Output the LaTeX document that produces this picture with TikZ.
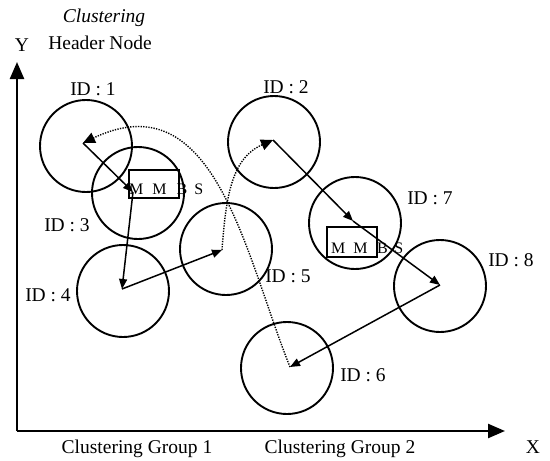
\documentclass[tikz,border=0pt]{standalone}
\usepackage{fontspec}
\setmainfont{Liberation Serif}
\usetikzlibrary{arrows.meta}
\begin{document}
\begin{tikzpicture}[x=1pt,y=-1pt,
  cell/.style={draw,circle,line width=1.9pt,minimum size=92pt,inner sep=0pt},
  lbl/.style={font=\fontsize{19.5}{21}\selectfont,inner sep=0pt},
  link/.style={line width=1.5pt,-{Triangle[length=10pt,width=8pt]}},
  dlink/.style={line width=1.4pt,dash pattern=on 1.3pt off 1.3pt,-{Triangle[length=12pt,width=11pt]}},
  axis/.style={line width=2.4pt,-{Triangle[length=17pt,width=14pt]}},
  mbox/.style={draw,line width=1.8pt,inner sep=0pt},
  mtxt/.style={font=\fontsize{16}{18}\selectfont,inner sep=0pt}
]
\useasboundingbox (0,0) rectangle (550,461);
% axes
\coordinate (O) at (17,431);
\coordinate (Ytip) at (17,62);
\coordinate (Xtip) at (505,431);
\draw[axis] (O) -- (Ytip);
\draw[axis] (O) -- (Xtip);
\node[lbl] (ylab) at (22,45) {Y};
\node[lbl] (xlab) at (533,447) {X};
\node[lbl,font=\fontsize{19.5}{21}\selectfont\itshape] (hdr1) at (104,18) {Clustering};
\node[lbl] (hdr2) at (100,43) {Header Node};
\node[lbl] (g1) at (137,449) {Clustering Group 1};
\node[lbl] (g2) at (340,449) {Clustering Group 2};
% cells
\node[cell] (c1) at (86,146) {};
\node[cell] (c2) at (274,142) {};
\node[cell] (c3) at (138,193) {};
\node[cell] (c4) at (123,291) {};
\node[cell] (c5) at (226,249) {};
\node[cell] (c6) at (287,368) {};
\node[cell] (c7) at (355,223) {};
\node[cell] (c8) at (440,286) {};
% node points
\coordinate (p1) at (83,143);
\coordinate (p2) at (273,140);
\coordinate (p3) at (133,192);
\coordinate (p4) at (122,289);
\coordinate (p5) at (222,250);
\coordinate (p6) at (290,367);
\coordinate (p7) at (353,221);
\coordinate (p8) at (440,285);
% ID labels
\node[lbl] (l1) at (93,89) {ID : 1};
\node[lbl] (l2) at (286,87) {ID : 2};
\node[lbl] (l3) at (67,225) {ID : 3};
\node[lbl] (l4) at (48,295) {ID : 4};
\node[lbl] (l5) at (288,276) {ID : 5};
\node[lbl] (l6) at (363,375) {ID : 6};
\node[lbl] (l7) at (430,198) {ID : 7};
\node[lbl] (l8) at (511,260) {ID : 8};
% MMBS boxes
\node[mbox,minimum width=50pt,minimum height=28pt] (b3) at (154,184) {};
\node[mbox,minimum width=50pt,minimum height=30pt] (b7) at (352,242) {};
\node[mtxt,anchor=base west] (t3) at (129,194) {M\hskip9pt M\hskip10pt B\hskip7pt S};
\node[mtxt,anchor=base west] (t7) at (331,253) {M\hskip8pt M\hskip9.5pt B\hskip6.5pt S};
% solid links
\draw[link] (p1) -- (p3);
\draw[link] (p3) -- (p4);
\draw[link] (p4) -- (p5);
\draw[link] (p2) -- (p7);
\draw[link] (p7) -- (p8);
\draw[link] (p8) -- (p6);
% dotted links
\draw[dlink] (p5) .. controls (226,195) and (232,158) .. (p2);
\draw[dlink] (p6) .. controls (245,255) and (215,80) .. (p1);
\end{tikzpicture}
\end{document}
